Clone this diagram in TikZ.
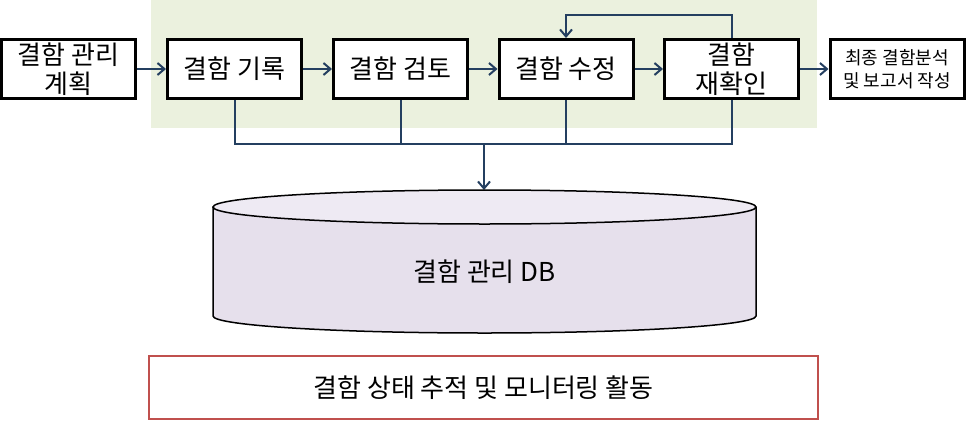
\documentclass[tikz,border=0pt]{standalone}
\usepackage{fontspec}
\setmainfont{Noto Sans CJK KR}
\usetikzlibrary{arrows.meta}
\definecolor{linkblue}{HTML}{243F60}
\definecolor{bggreen}{HTML}{EBF1DE}
\definecolor{dbbody}{HTML}{E6E0EC}
\definecolor{dbtopc}{HTML}{EEEAF3}
\definecolor{redline}{HTML}{C0504D}

\begin{document}
\begin{tikzpicture}[x=1pt,y=-1pt,
  stepbox/.style={draw,line width=3pt,fill=white,minimum width=134pt,minimum height=59pt,
    inner sep=0pt,align=center,font=\fontsize{26}{29}\selectfont},
  link/.style={draw=linkblue,line width=2pt},
  go/.style={link,-{Straight Barb[length=7pt,width=12pt,line width=2pt]}}]
\useasboundingbox (0,0) rectangle (968,423);
% background of the main cycle
\fill[bggreen] (151,0) rectangle (817,128);
% process steps
\node[stepbox] (plan) at (68.5,69) {결함 관리\\계획};
\node[stepbox] (rec) at (234.5,69) {결함 기록};
\node[stepbox] (rev) at (400.5,69) {결함 검토};
\node[stepbox] (fix) at (566,69) {결함 수정};
\node[stepbox] (re) at (731.5,69) {결함\\재확인};
\node[stepbox,font=\fontsize{18}{23}\selectfont] (rep) at (897,69) {최종 결함분석\\및 보고서 작성};
\draw[go] (plan) -- (rec);
\draw[go] (rec) -- (rev);
\draw[go] (rev) -- (fix);
\draw[go] (fix) -- (re);
\draw[go] (re) -- (rep);
\draw[go] (re.north) -- ++(0,-23) -| (fix.north);
% lines down to the db
\coordinate (bus) at (0,144);
\coordinate (hub) at (484,144);
\coordinate (dbtop) at (484,190);
\draw[link] (rec.south) |- (re.south |- bus) -- (re.south);
\draw[link] (rev.south) -- (rev.south |- bus);
\draw[link] (fix.south) -- (fix.south |- bus);
\draw[go] (hub) -- (dbtop);
% db cylinder
\draw[line width=1.5pt,fill=dbbody] (213,207) -- (213,316) arc[start angle=180,end angle=360,x radius=271.5,y radius=-17] -- (756,207);
\draw[line width=1.5pt,fill=dbtopc] (484.5,207) ellipse[x radius=271.5,y radius=17];
\node[font=\fontsize{26}{30}\selectfont] (db) at (484.5,272) {결함 관리 DB};
% monitoring
\node[draw=redline,line width=2.5pt,minimum width=669pt,minimum height=63pt,
  font=\fontsize{26}{30}\selectfont] (mon) at (483.5,387.5) {결함 상태 추적 및 모니터링 활동};
\end{tikzpicture}
\end{document}
